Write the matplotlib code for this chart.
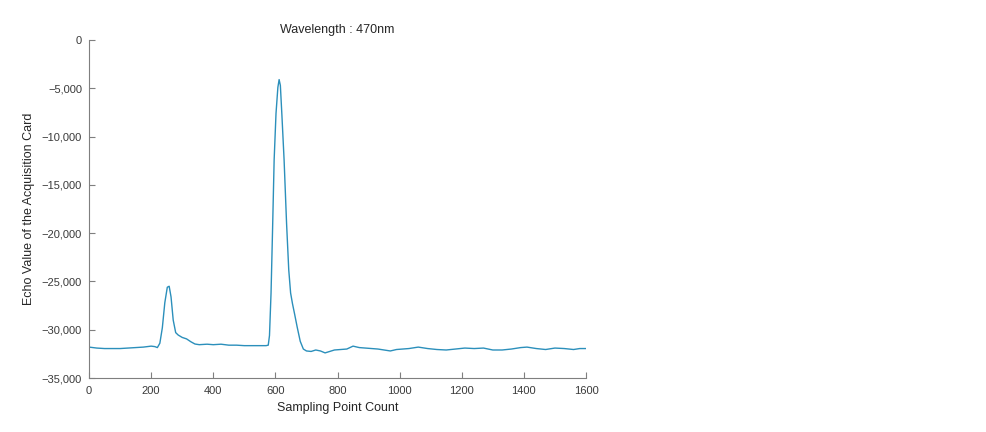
import matplotlib.pyplot as plt
from matplotlib.ticker import FuncFormatter

plt.rcParams['font.family'] = ['Liberation Sans', 'DejaVu Sans']

# values
sample_idx = [0, 25, 50, 75, 100, 125, 150, 175, 200, 212, 220, 228, 236, 244, 252, 258,
              264, 271, 279, 287, 300, 314, 328, 341, 355, 380, 400, 425, 450, 475, 500,
              525, 550, 570, 577, 581, 586, 591, 596, 602, 608, 612, 616, 621, 628,
              636, 643, 649, 655, 662, 670, 680, 690, 700, 715, 730, 745, 760, 775,
              790, 810, 830, 850, 870, 890, 910, 930, 950, 970, 990, 1010, 1030,
              1060, 1090, 1120, 1150, 1180, 1210, 1240, 1270, 1300, 1330, 1360,
              1390, 1410, 1440, 1470, 1500, 1530, 1560, 1580, 1600]
echo_value = [-31800, -31900, -31950, -31950, -31950, -31900, -31850, -31800, -31700, -31750,
              -31850, -31400, -29800, -27200, -25600, -25500, -26600, -29000, -30300, -30550,
              -30800, -30950, -31250, -31480, -31550, -31500, -31550, -31500, -31600, -31600,
              -31650, -31650, -31650, -31650, -31600, -30600, -26200, -19500, -12400, -7600,
              -4900, -4100, -4700, -7800, -12400, -19000, -23800, -26200, -27300, -28400,
              -29700, -31200, -32000, -32200, -32250, -32100, -32200, -32400, -32250,
              -32100, -32050, -32000, -31700, -31850, -31900, -31950, -32000, -32100,
              -32200, -32050, -32000, -31950, -31800, -31950, -32050, -32100, -32000,
              -31900, -31950, -31900, -32100, -32100, -32000, -31850, -31800, -31950,
              -32050, -31900, -31950, -32050, -31950, -31950]

fig = plt.figure(figsize=(9.86, 4.32), dpi=100)
ax = fig.add_axes([0.0903, 0.125, 0.504, 0.7824])

ax.plot(sample_idx, echo_value, color='#2b8fbb', lw=1.0)

ax.set_xlim(0, 1600)
ax.set_ylim(-35000, 0)
ax.set_xticks(range(0, 1601, 200))
ax.set_yticks(range(-35000, 1, 5000))
ax.yaxis.set_major_formatter(FuncFormatter(lambda v, p: f"{int(v):,}".replace('-', '\u2212')))

for s in ['top', 'right']:
    ax.spines[s].set_visible(False)
for s in ['left', 'bottom']:
    ax.spines[s].set_color('#7f7f7f')
ax.tick_params(direction='in', length=4, color='#7f7f7f', labelcolor='#3a3a3a', labelsize=8)
ax.tick_params(axis='x', pad=6)
ax.tick_params(axis='y', pad=5)

ax.set_xlabel("Sampling Point Count", fontsize=9, color='#262626', labelpad=4)
ax.set_ylabel("Echo Value of the Acquisition Card", fontsize=9, color='#262626', labelpad=5)
ax.set_title("Wavelength : 470nm", fontsize=9, color='#262626', pad=5)

fig.savefig("out.png", dpi=100)
